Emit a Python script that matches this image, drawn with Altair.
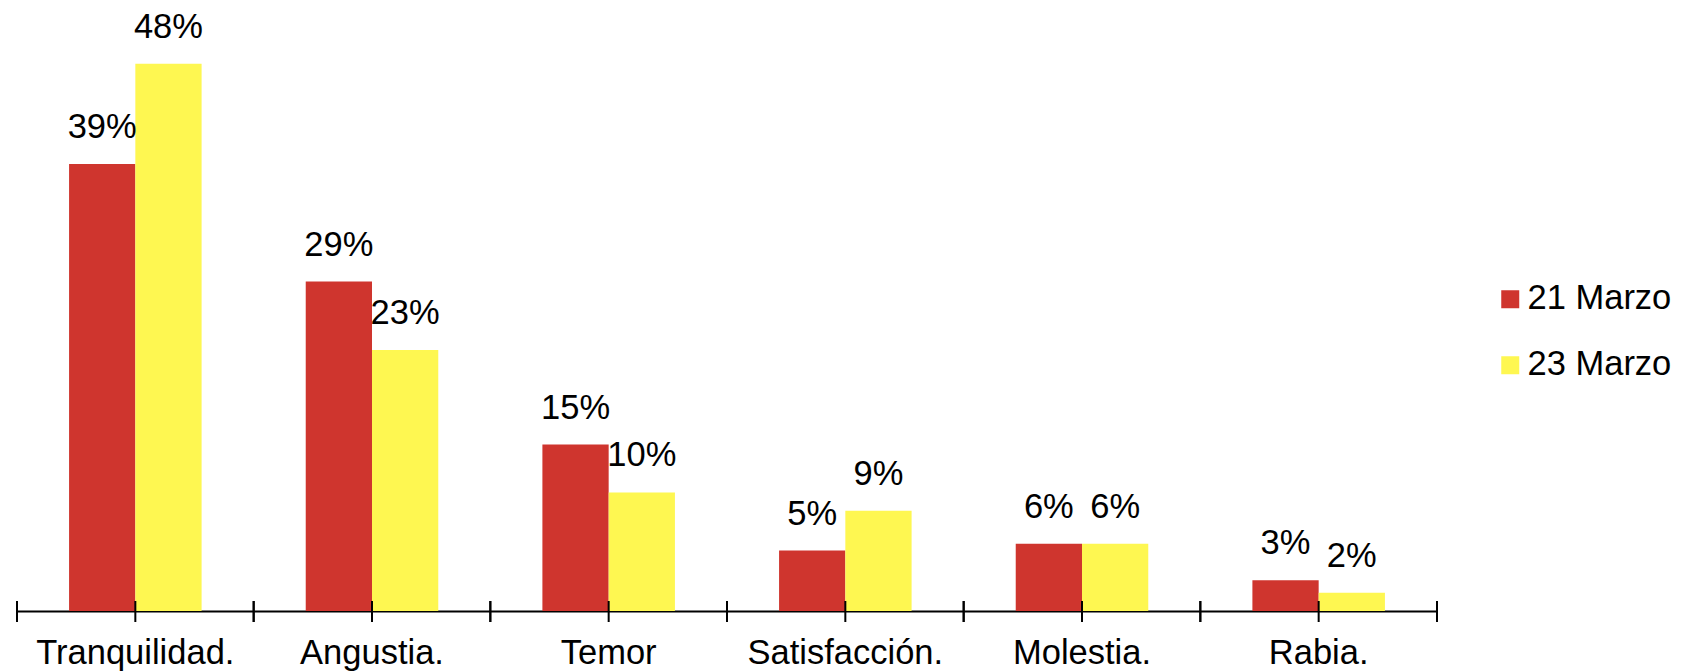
import altair as alt
import pandas as pd

categories = ["Tranquilidad.", "Angustia.", "Temor", "Satisfacción.", "Molestia.", "Rabia."]
series = ["21 Marzo", "23 Marzo"]
values_21 = [39.2, 28.9, 14.6, 5.3, 5.9, 2.7]
values_23 = [48.0, 22.9, 10.4, 8.8, 5.9, 1.6]
colors = ["#CF352E", "#FEF751"]

rows = []
for c, a, b in zip(categories, values_21, values_23):
    rows.append({"cat": c, "serie": series[0], "v": a})
    rows.append({"cat": c, "serie": series[1], "v": b})
df = pd.DataFrame(rows)

W, H = 1420, 570
STEP = W / len(categories)
FONT = "Liberation Sans"
FS = 34.5

xscale = alt.Scale(domain=categories, paddingInner=0.44, paddingOuter=0.22)
x = alt.X("cat:N", sort=categories, scale=xscale,
          axis=alt.Axis(title=None, ticks=False, grid=False, domain=True,
                        domainColor="black", domainWidth=2, labelFontSize=FS,
                        labelColor="black", labelFont=FONT, labelPadding=25,
                        labelAngle=0, labelLimit=0))
y = alt.Y("v:Q", scale=alt.Scale(domain=[0, 50]), axis=None)
xo = alt.XOffset("serie:N", sort=series, scale=alt.Scale(domain=series, paddingInner=0, paddingOuter=0))

base = alt.Chart(df)

bars = base.mark_bar(stroke=None).encode(
    x=x, y=y, xOffset=xo,
    color=alt.Color("serie:N", sort=series,
                    scale=alt.Scale(domain=series, range=colors),
                    legend=alt.Legend(title=None, orient="none", legendX=1476, legendY=241,
                                      symbolType="square", symbolSize=324,
                                      symbolStrokeWidth=0, labelFontSize=FS,
                                      labelFont=FONT, labelColor="black",
                                      labelOffset=0, rowPadding=31, labelLimit=0)),
)

labels = base.transform_calculate(
    lbl="format(datum.v, '.0f') + '%'"
).mark_text(baseline="alphabetic", align="center", dy=-26, fontSize=FS,
            font=FONT, color="black").encode(
    x=x, y=y, xOffset=xo, text="lbl:N"
)

tick_df = pd.DataFrame({"cat": categories})
tb = alt.Chart(tick_df)
ty = dict(y=alt.value(H - 10), y2=alt.value(H + 11))
center_ticks = tb.mark_rule(color="black", strokeWidth=2).encode(x=alt.X("cat:N", sort=categories), **ty)
left_ticks = tb.mark_rule(color="black", strokeWidth=2, xOffset=-STEP / 2).encode(x=alt.X("cat:N", sort=categories), **ty)
right_ticks = tb.mark_rule(color="black", strokeWidth=2, xOffset=STEP / 2).encode(x=alt.X("cat:N", sort=categories), **ty)

chart = alt.layer(bars, labels, center_ticks, left_ticks, right_ticks).properties(
    width=W, height=H,
    autosize=alt.AutoSizeParams(type="none"),
    padding={"left": 9, "top": 33, "right": 236, "bottom": 60},
).configure_view(stroke=None)

chart.save("out.html", embed_options={"renderer": "svg", "actions": False})
